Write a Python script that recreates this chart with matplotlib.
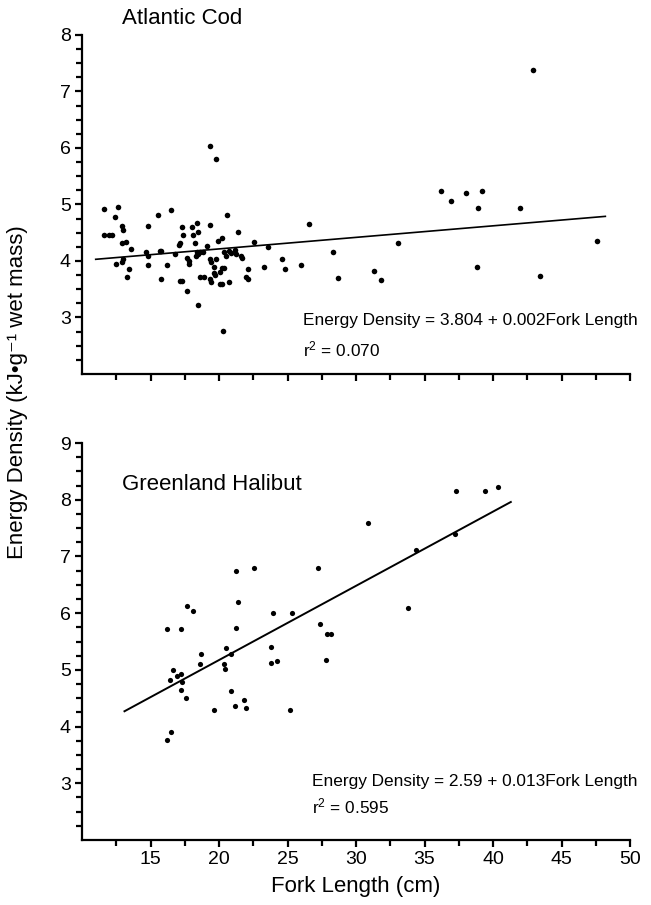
import matplotlib
matplotlib.use("Agg")
import matplotlib.pyplot as plt
from matplotlib.ticker import FixedLocator

plt.rcParams['font.family'] = ['Liberation Sans', 'DejaVu Sans']
plt.rcParams['mathtext.fontset'] = 'custom'
plt.rcParams['mathtext.rm'] = 'Liberation Sans'
plt.rcParams['mathtext.it'] = 'Liberation Sans'

# ---------------- data ----------------
cod_x = [11.6, 12.6, 12.4, 11.6, 12.0, 12.2, 12.9, 13.0, 12.9, 13.2, 13.55, 13.0, 12.9, 12.5,
         13.45, 13.25, 14.8, 14.65, 14.8, 14.8, 15.55, 16.5, 15.7, 15.8, 16.2, 15.8, 16.8,
         17.05, 17.15, 17.3, 17.4, 17.15, 17.3, 17.7, 17.8, 17.8, 17.7, 18.0, 18.4, 18.1,
         18.5, 18.25, 18.37, 18.6, 18.8, 18.3, 18.5, 18.5, 18.6, 18.9, 19.35, 19.75, 19.35,
         19.1, 19.35, 19.4, 19.8, 19.6, 19.65, 19.35, 19.4, 19.7, 20.05, 20.2, 20.4, 20.05,
         20.25, 20.7, 19.9, 20.2, 20.6, 20.4, 20.5, 20.7, 20.9, 21.2, 21.25, 21.6, 21.7,
         21.4, 20.3, 22.1, 22.0, 22.1, 22.55, 23.3, 23.55, 42.9, 36.2, 36.9, 38.0, 39.2,
         38.9, 41.95, 26.6, 24.6, 24.85, 26.0, 28.3, 28.7, 31.3, 31.8, 33.1, 38.8, 43.45, 47.6]
cod_y = [4.92, 4.95, 4.77, 4.46, 4.46, 4.46, 4.62, 4.55, 4.31, 4.33, 4.22, 4.03, 3.99, 3.94,
         3.86, 3.72, 4.62, 4.16, 4.08, 3.93, 4.82, 4.90, 4.18, 4.18, 3.93, 3.68, 4.12,
         4.28, 4.31, 4.61, 4.46, 3.65, 3.65, 4.05, 4.00, 3.94, 3.47, 4.61, 4.68, 4.46,
         4.51, 4.31, 4.16, 4.16, 4.16, 4.09, 4.13, 3.23, 3.72, 3.72, 6.04, 5.80, 4.64,
         4.27, 4.03, 3.99, 4.03, 3.90, 3.78, 3.69, 3.62, 3.75, 3.81, 3.88, 3.87, 3.60,
         3.60, 3.62, 4.35, 4.40, 4.81, 4.16, 4.09, 4.18, 4.15, 4.19, 4.12, 4.09, 4.05,
         4.51, 2.76, 3.86, 3.71, 3.68, 4.33, 3.90, 4.25, 7.38, 5.24, 5.06, 5.20, 5.24,
         4.93, 4.93, 4.65, 4.04, 3.85, 3.93, 4.16, 3.70, 3.83, 3.66, 4.31, 3.89, 3.73, 4.35]
cod_line_x = [11.0, 48.2]
cod_line_y = [4.03, 4.79]

hal_x = [21.25, 22.56, 21.4, 17.67, 18.1, 16.24, 17.2, 21.25, 23.95, 25.3, 18.7, 18.6, 20.5,
         20.9, 20.35, 20.45, 23.8, 23.8, 24.25, 16.65, 16.43, 16.9, 17.2, 17.33, 17.2, 17.6,
         20.9, 21.8, 21.2, 21.96, 19.67, 25.2, 16.5, 16.2, 37.3, 39.4, 40.4, 30.9, 34.4,
         37.25, 27.2, 33.8, 27.4, 27.9, 28.2, 27.8]
hal_y = [6.75, 6.79, 6.2, 6.13, 6.03, 5.72, 5.72, 5.74, 6.0, 6.0, 5.28, 5.1, 5.38,
         5.28, 5.1, 5.01, 5.41, 5.12, 5.15, 5.0, 4.82, 4.89, 4.92, 4.79, 4.64, 4.5,
         4.63, 4.47, 4.37, 4.32, 4.29, 4.29, 3.91, 3.76, 8.15, 8.15, 8.23, 7.59, 7.12,
         7.39, 6.79, 6.09, 5.81, 5.63, 5.63, 5.17]
hal_line_x = [13.1, 41.3]
hal_line_y = [4.27, 7.96]

x_major = [15, 20, 25, 30, 35, 40, 45, 50]
x_minor = [12.5, 17.5, 22.5, 27.5, 32.5, 37.5, 42.5, 47.5]
cod_yticks = [3, 4, 5, 6, 7, 8]
hal_yticks = [3, 4, 5, 6, 7, 8, 9]

W, H = 651, 905
fig = plt.figure(figsize=(W / 100, H / 100), dpi=100)

def fx(px):
    return px / W

def fy(py):
    return 1 - py / H

left, right = 82, 630
ax1 = fig.add_axes([fx(left), fy(374), (right - left) / W, (374 - 35) / H])
ax2 = fig.add_axes([fx(left), fy(840), (right - left) / W, (840 - 443) / H])

def style(ax, ymax, yticks, labels_x):
    ax.set_xlim(10, 50)
    ax.set_ylim(2, ymax)
    for s in ['top', 'right']:
        ax.spines[s].set_visible(False)
    for s in ['left', 'bottom']:
        ax.spines[s].set_linewidth(1.6)
    ax.xaxis.set_major_locator(FixedLocator(x_major))
    ax.xaxis.set_minor_locator(FixedLocator(x_minor))
    ax.yaxis.set_major_locator(FixedLocator(yticks))
    minors = [v / 4 for v in range(9, ymax * 4) if v % 4 != 0]
    ax.yaxis.set_minor_locator(FixedLocator(minors))
    ax.tick_params(axis='both', which='major', direction='out', length=5, width=1.6,
                   labelsize=14, pad=3)
    ax.tick_params(axis='both', which='minor', direction='out', length=4, width=1.6)
    if not labels_x:
        ax.tick_params(axis='x', labelbottom=False)

style(ax1, 8, cod_yticks, False)
style(ax2, 9, hal_yticks, True)

ax1.scatter(cod_x, cod_y, s=16, color='black', linewidths=0, zorder=3)
ax1.plot(cod_line_x, cod_line_y, color='black', lw=1.2)
ax2.scatter(hal_x, hal_y, s=14, color='black', linewidths=0, zorder=3)
ax2.plot(hal_line_x, hal_line_y, color='black', lw=1.4)

ax2.set_xlabel('Fork Length (cm)', fontsize=16, labelpad=6)

fig.text(fx(122), fy(19), 'Atlantic Cod', fontsize=16, va='center', ha='left')
fig.text(fx(122), fy(485), 'Greenland Halibut', fontsize=16, va='center', ha='left')

fig.text(fx(303), fy(320), 'Energy Density = 3.804 + 0.002Fork Length', fontsize=12.4,
         va='center', ha='left')
fig.text(fx(303), fy(349), r'r$^{2}$ = 0.070', fontsize=12.4, va='center', ha='left')
fig.text(fx(312), fy(781), 'Energy Density = 2.59 + 0.013Fork Length', fontsize=12.4,
         va='center', ha='left')
fig.text(fx(312), fy(806), r'r$^{2}$ = 0.595', fontsize=12.4, va='center', ha='left')

fig.text(fx(18), fy(392), 'Energy Density (kJ•g⁻¹ wet mass)', fontsize=16, rotation=90,
         va='center', ha='center')

fig.savefig('out.png', dpi=100)
